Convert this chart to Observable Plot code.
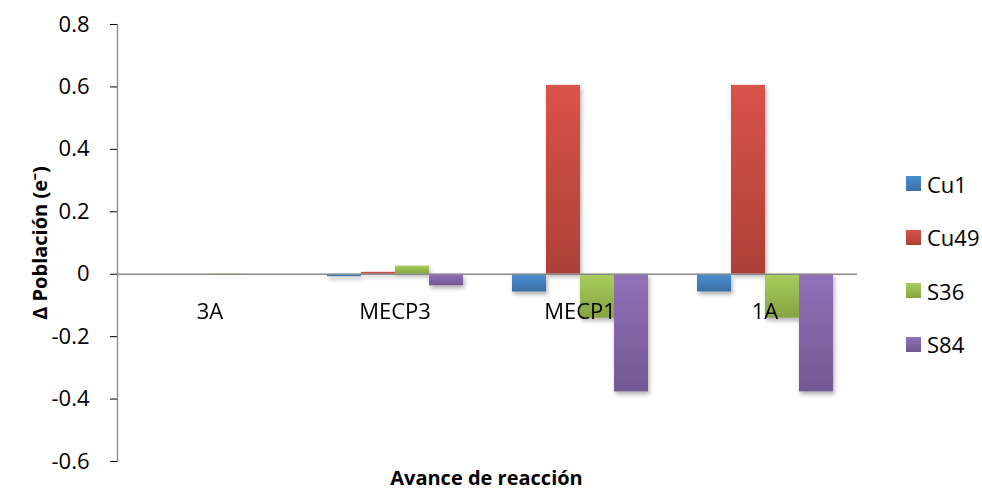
<!DOCTYPE html>
<html><head><meta charset="utf-8">
<script src="https://cdn.jsdelivr.net/npm/d3@7"></script>
<script src="https://cdn.jsdelivr.net/npm/@observablehq/plot@0.6"></script>
<style>
body{margin:0;background:#fff;}
#wrap{position:relative;width:982px;height:492px;font-family:"Open Sans",sans-serif;color:#000;}
#xtitle{position:absolute;left:115px;width:743px;top:466px;text-align:center;font-weight:bold;font-size:20px;line-height:24px;}
#legend{position:absolute;left:906px;top:157px;}
.item{display:flex;align-items:center;height:53.5px;font-size:22px;}
.sw{width:15px;height:15px;margin-right:6px;}
g[aria-label="y-axis label"] text{font-weight:bold;font-size:20px;}
</style></head><body><div id="wrap"></div>
<script>
const categories = ["3A", "MECP3", "MECP1", "1A"];
const seriesNames = ["Cu1", "Cu49", "S36", "S84"];
const cu1 = [0, -0.008, -0.057, -0.057];
const cu49 = [0, 0.006, 0.605, 0.605];
const s36 = [0.001, 0.026, -0.141, -0.141];
const s84 = [0, -0.037, -0.377, -0.377];
const yTicks = [-0.6, -0.4, -0.2, 0, 0.2, 0.4, 0.6, 0.8];
const topColors = ["#4a8fd0", "#d95349", "#a9cd5d", "#9271b8"];
const bottomColors = ["#3a6fa5", "#ad4037", "#86a341", "#735893"];
const yTitle = "Δ Población (e⁻)";
const xTitle = "Avance de reacción";

const seriesValues = [cu1, cu49, s36, s84];
const rows = [];
categories.forEach((c, i) => {
  seriesNames.forEach((s, j) => rows.push({category: c, series: s, value: seriesValues[j][i]}));
});

const plot = Plot.plot({
  width: 982,
  height: 492,
  marginLeft: 115,
  marginRight: 124,
  marginTop: 24,
  marginBottom: 31,
  style: {fontFamily: '"Open Sans", sans-serif', fontSize: "22px", color: "#000", background: "#fff", overflow: "visible"},
  fx: {domain: categories, padding: 0, axis: null},
  x: {domain: seriesNames, paddingInner: 0, paddingOuter: 0.69, axis: null},
  y: {
    domain: [-0.6, 0.8],
    ticks: yTicks,
    tickFormat: d => String(+d.toFixed(1)),
    tickSize: 7,
    tickPadding: 21,
    label: yTitle,
    labelAnchor: "center",
    labelArrow: "none",
    labelOffset: 85
  },
  color: {domain: seriesNames, range: seriesNames.map(s => `url(#grad-${s})`)},
  marks: [
    Plot.frame({anchor: "left", facetAnchor: "left", stroke: "#878787", strokeWidth: 1.3}),
    Plot.barY(rows, {fx: "category", x: "series", y: "value", fill: "series"}),
    Plot.ruleY([0], {stroke: "#8c8c8c", strokeWidth: 1.6}),
    Plot.text(categories, {fx: d => d, y: () => 0, text: d => d, dy: 38, fill: "#000"})
  ]
});

const defs = seriesNames.map((s, i) =>
  `<linearGradient id="grad-${s}" x1="0" y1="0" x2="0" y2="1">
     <stop offset="0" stop-color="${topColors[i]}"/>
     <stop offset="1" stop-color="${bottomColors[i]}"/>
   </linearGradient>`).join("");
plot.insertAdjacentHTML("afterbegin",
  `<defs>${defs}<filter id="shadow" x="-20%" y="-20%" width="150%" height="150%">
     <feDropShadow dx="1.5" dy="3" stdDeviation="2" flood-color="#000" flood-opacity="0.3"/>
   </filter></defs>`);
plot.querySelectorAll('g[aria-label="bar"]').forEach(g => g.setAttribute("filter", "url(#shadow)"));
plot.querySelectorAll('g[aria-label="y-axis tick"]').forEach(g => g.setAttribute("stroke", "#878787"));
plot.querySelectorAll('g[aria-label="y-axis label"] text').forEach(t => {
  t.textContent = t.textContent.replace(/\s*[→↑←↓]\s*/g, "").trim();
});

const wrap = document.getElementById("wrap");
wrap.appendChild(plot);
const xt = document.createElement("div");
xt.id = "xtitle";
xt.textContent = xTitle;
wrap.appendChild(xt);
const legend = document.createElement("div");
legend.id = "legend";
seriesNames.forEach((s, i) => {
  const item = document.createElement("div");
  item.className = "item";
  const sw = document.createElement("div");
  sw.className = "sw";
  sw.style.background = `linear-gradient(${topColors[i]}, ${bottomColors[i]})`;
  const lab = document.createElement("span");
  lab.textContent = s;
  item.appendChild(sw);
  item.appendChild(lab);
  legend.appendChild(item);
});
wrap.appendChild(legend);
</script></body></html>
